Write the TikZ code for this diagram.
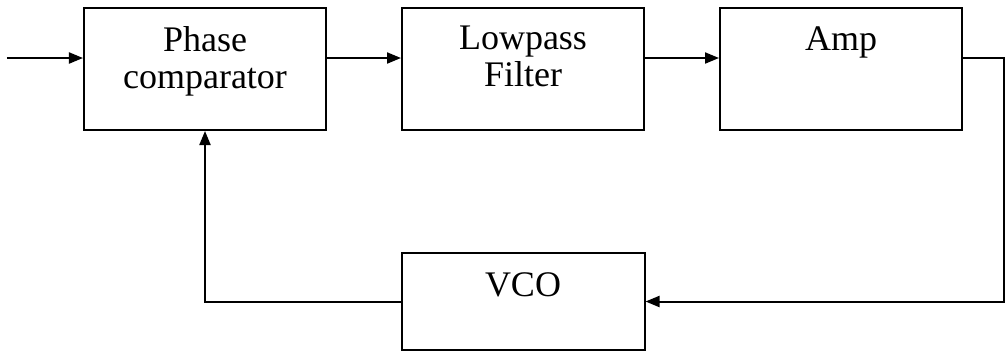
\documentclass[tikz,border=0pt]{standalone}
\usepackage{fontspec}
\setmainfont{Liberation Serif}
\usetikzlibrary{positioning, arrows.meta}

\begin{document}
\begin{tikzpicture}[
    node distance=37pt,
    block/.style={
        rectangle,
        draw,
        line width=1pt,
        minimum width=121pt,
        minimum height=61pt
    },
    tag/.style={
        inner sep=0pt,
        align=center,
        font=\fontsize{18}{18.5}\selectfont
    },
    arrow/.style={-{Triangle[length=7pt, width=5.5pt]}, line width=1pt}
]

\useasboundingbox (-102.5pt,34.5pt) rectangle (400pt,-140.5pt);

\node[block] (pc) {};
\node[block, right=of pc] (lp) {};
\node[block, right=of lp] (amp) {};
\node[block, below=60.5pt of lp, minimum width=121.5pt, minimum height=48.5pt] (vco) {};

\node[tag, below=9.5pt of pc.north] (pctext) {Phase\\comparator};
\node[tag, below=9.5pt of lp.north] (lptext) {Lowpass\\Filter};
\node[tag, below=9.5pt of amp.north] (amptext) {Amp};
\node[tag, below=10pt of vco.north] (vcotext) {VCO};

\coordinate (pcin) at ([yshift=5.5pt]pc.west);
\coordinate[left=38pt of pcin] (start);
\coordinate (turn) at ([xshift=20.5pt, yshift=5.5pt]amp.east);

\draw[arrow] (start) -- (pcin);
\draw[arrow] ([yshift=5.5pt]pc.east) -- ([yshift=5.5pt]lp.west);
\draw[arrow] ([yshift=5.5pt]lp.east) -- ([yshift=5.5pt]amp.west);
\draw[arrow] ([yshift=5.5pt]amp.east) -- (turn) |- (vco.east);
\draw[arrow] (vco.west) -| (pc.south);

\end{tikzpicture}
\end{document}
